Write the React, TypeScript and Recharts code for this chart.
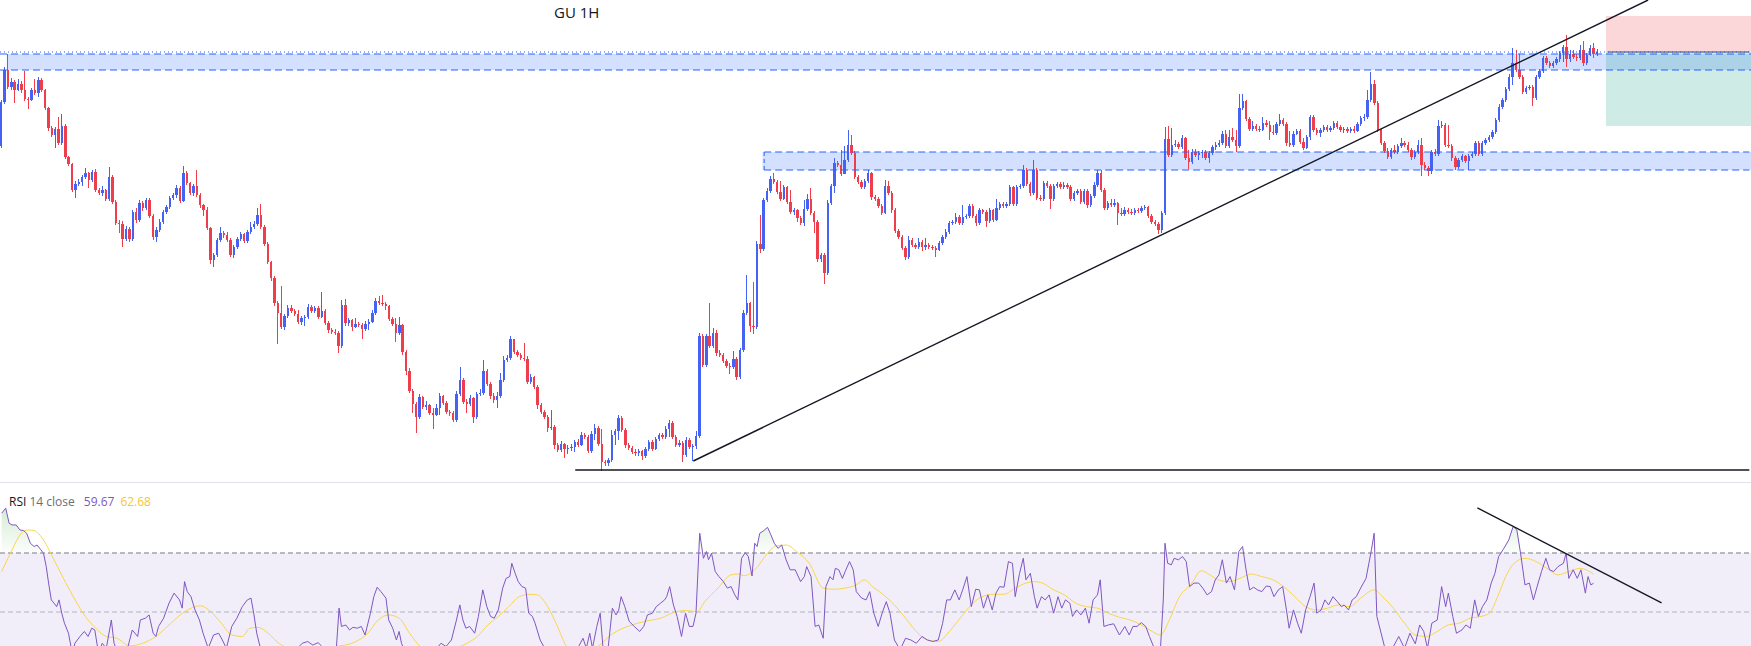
import React from "react";
import { ComposedChart, Bar, Line, Area, XAxis, YAxis, ReferenceArea, ReferenceLine } from "recharts";

const WIDTH = 1751;
const PRICE_H = 482;
const RSI_H = 164;
const SLOTS = 519; // candle slots incl. empty space on the right

// GU 1H, prices in pips above 1.2500
const firstOpen = 354;
const closes = [
  398,430,413,418,410,416,410,401,400,410,407,420,410,392,372,365,371,357,374,343,
  336,310,316,318,323,327,320,328,310,307,310,301,323,298,277,276,261,271,261,288,280,
  297,292,300,284,263,270,278,288,293,302,305,312,299,327,317,307,314,305,295,290,
  272,240,245,260,267,265,260,245,253,261,266,259,268,273,276,285,273,256,238,222,197,
  187,173,184,192,189,186,178,182,183,193,189,192,183,189,177,170,168,
  167,154,195,177,180,173,176,175,171,176,178,187,199,197,196,194,181,176,167,175,
  148,129,109,96,83,103,93,95,87,85,92,104,97,88,87,80,106,120,98,96,
  102,83,106,107,129,116,104,100,104,120,140,142,161,148,145,142,141,118,123,113,
  95,88,83,72,73,55,50,56,51,52,53,58,55,65,63,49,66,72,56,38,
  37,40,65,69,82,70,55,52,48,47,49,44,51,58,51,61,65,63,71,77,
  63,55,57,45,60,53,54,64,164,135,164,154,167,147,145,139,134,133,141,123,
  150,187,197,174,173,256,251,300,309,321,318,308,301,313,298,288,290,282,277,291,
  301,287,278,241,245,227,297,314,337,335,326,340,355,347,323,318,313,319,327,303,
  301,294,287,314,307,290,269,263,252,243,260,255,253,258,253,255,253,252,250,257,
  263,268,277,278,283,277,283,284,294,284,277,290,288,279,290,280,292,296,294,
  296,313,296,313,314,330,316,307,330,302,301,317,314,301,314,316,313,315,313,301,
  307,309,298,309,295,304,315,327,310,292,297,295,297,287,286,290,288,287,290,289,
  292,293,284,278,276,270,287,361,345,355,356,353,362,342,338,348,345,347,348,342,
  347,353,355,357,366,354,363,360,354,392,399,381,371,374,371,370,377,375,368,367,
  376,380,376,357,355,366,369,358,352,363,383,370,367,370,373,370,372,377,373,370,
  371,369,371,369,376,382,383,400,416,397,370,357,349,343,350,348,354,357,355,
  350,343,348,355,335,332,329,348,346,374,375,355,354,342,333,340,344,339,344,346,
  357,346,357,360,363,368,380,393,400,411,423,437,430,423,408,412,413,402,423,429,
  442,437,434,437,441,447,453,441,446,443,442,450,437,445,452,446,448,
];
const highs = [
  400,433,446,422,420,421,419,429,403,412,421,423,422,411,393,374,373,383,386,376,
  344,337,319,321,325,332,328,330,331,312,314,311,333,325,300,280,279,274,273,290,292,
  300,299,302,302,286,273,281,290,295,304,307,315,314,334,329,318,316,330,307,296,
  293,273,247,262,273,269,268,262,255,263,268,267,270,278,279,292,296,275,258,239,224,
  199,214,186,195,195,191,190,184,185,196,195,194,194,208,191,179,172,
  171,169,200,201,182,181,182,178,177,179,181,190,202,204,205,198,195,183,182,183,
  176,150,132,111,98,106,104,99,96,92,96,107,105,99,90,89,109,133,122,101,
  105,103,108,111,140,131,118,107,108,127,144,145,164,161,150,147,157,144,126,124,
  115,97,90,85,90,75,57,59,57,55,56,60,61,68,67,65,69,76,74,71,
  40,42,70,71,85,84,72,57,54,51,51,50,53,60,60,63,67,67,74,80,
  79,65,60,59,63,62,56,69,167,166,166,197,172,170,150,147,141,137,149,143,
  152,190,225,198,218,259,285,302,312,324,327,320,319,315,314,310,292,291,284,300,
  306,312,289,280,247,247,300,316,342,339,350,354,370,365,349,325,320,321,330,328,
  305,303,296,320,319,309,292,271,265,254,264,262,257,262,260,262,257,255,254,259,
  265,271,279,280,287,285,295,286,296,296,286,292,291,290,292,291,301,298,298,
  298,315,314,315,316,335,332,318,340,332,305,319,319,316,316,318,318,318,317,315,
  309,311,311,311,311,306,318,330,330,312,299,301,301,298,292,293,292,291,292,292,
  294,295,294,286,280,278,289,373,374,372,360,358,365,363,350,351,351,349,350,350,
  349,355,358,360,369,370,370,372,370,406,406,400,383,379,376,374,383,380,379,375,
  378,386,382,378,369,369,371,371,362,365,385,385,372,372,375,375,374,379,379,375,
  373,373,373,374,378,384,386,410,428,420,399,372,359,352,352,355,356,362,359,
  358,352,350,360,362,338,334,350,351,380,379,377,375,356,344,342,346,345,346,348,
  359,359,359,362,365,370,382,396,402,413,426,452,450,446,425,414,415,415,425,431,
  444,444,439,439,443,449,455,465,450,450,446,455,459,447,455,457,451,
];
const lows = [
  352,396,411,410,397,409,407,399,391,399,405,403,408,390,369,363,352,355,355,341,
  334,308,302,314,314,321,312,318,308,305,304,299,299,296,275,267,253,259,258,259,277,
  278,289,290,282,260,258,268,276,286,291,300,302,297,298,315,305,304,303,292,284,
  270,236,233,243,258,262,258,243,242,251,259,257,257,266,271,274,271,254,236,219,194,
  156,171,170,182,187,184,176,175,174,181,187,187,181,182,175,167,166,
  165,147,152,174,174,169,172,173,161,169,170,177,185,195,194,190,179,174,158,165,
  145,125,107,87,67,81,91,90,85,71,84,85,95,86,84,78,78,104,96,87,
  94,77,81,104,105,114,101,97,92,102,118,138,140,146,143,140,139,116,116,111,
  91,86,81,68,70,51,48,48,42,46,49,48,53,54,61,47,47,60,54,29,
  34,34,38,55,60,68,52,50,46,44,44,40,42,49,49,50,59,61,61,63,
  61,53,53,38,43,51,39,51,62,133,133,152,152,144,143,137,132,126,131,120,
  121,148,185,168,166,171,247,249,298,307,316,306,299,300,296,286,285,278,275,274,
  289,285,267,238,238,216,225,295,307,333,324,328,338,345,321,316,311,311,317,300,
  299,292,285,286,305,287,267,261,250,240,241,253,251,251,249,250,251,250,243,249,
  255,261,266,275,276,275,275,281,282,282,274,275,286,273,277,278,279,290,292,
  292,294,294,294,311,312,314,304,305,300,299,299,312,291,299,312,311,311,311,299,
  299,305,296,296,292,293,302,313,308,290,290,293,293,275,284,284,286,285,285,287,
  287,290,282,276,274,266,267,285,343,343,353,351,351,340,331,336,343,340,342,340,
  337,345,350,353,355,352,352,358,348,352,390,379,369,369,369,368,369,373,360,365,
  365,374,374,354,353,353,365,356,350,351,360,368,365,363,368,368,368,370,371,368,
  367,367,367,367,368,374,379,381,398,395,368,355,347,341,341,346,346,352,353,
  348,340,341,346,324,330,324,326,344,344,372,353,352,339,330,331,338,337,330,342,
  344,344,344,355,358,361,366,378,391,398,409,415,428,421,406,406,410,394,400,421,
  427,435,432,432,435,438,438,433,438,441,439,440,434,435,444,442,444,
];

const rsiAt = [
  0,1.2,2.2,3.1,4.3,5.4,6.5,7.4,8.5,9.6,10.5,11.6,12.4,13.2,13.9,14.7,15.5,16.3,17,17.8,
  18.6,19.8,20.9,21.7,23.2,24.5,25.6,26.7,27.6,28.7,29.8,31,32.5,33.3,34.1,35.6,37.2,38.7,40.3,41.1,
  42.6,43.7,44.9,45.7,46.5,48,49.6,51.1,52.7,53.5,54.2,55,56.1,57.3,58.6,59.7,61.2,62.8,64.3,65.4,
  66.6,68.2,69.7,71.3,72.8,73.9,74.7,75.6,76.7,79,82.1,85.2,89.1,90.7,92.2,93.8,94.8,96.9,99.2,100,
  100.7,102,103.1,104.1,105.4,106.6,107.7,109.3,110.3,111.3,112.4,113.9,114.7,115.9,117,117.8,118.5,120.1,124,128.6,
  130.2,131.7,133.3,134.8,135.8,136.7,137.6,138.7,140.2,141.3,142.6,143.8,144.9,146,147.2,148.5,149.5,150.6,151.2,152.2,
  153.1,154.2,155.3,156.2,157.3,158.1,159.6,161.2,164.3,167.4,170.5,172.3,173.3,174.3,175.1,176.4,177.4,178.2,179.8,181,
  182.1,182.9,183.6,184.7,186,187.5,189.1,190.3,191.4,192.9,194,195.3,196.5,197.1,198,199.1,200.2,201.5,202.7,203.8,
  204.9,205.8,206.9,208,208.9,209.5,210.4,211.5,212.6,213.9,215.1,216.2,217.3,218.2,219.3,220.4,221.3,222.4,223.2,223.9,
  224.7,225.9,227,227.8,229,230.1,231.2,232.5,233.7,235.2,236.8,237.9,238.6,239.9,
  241.1,242.2,243.5,244.3,245.5,246.4,247.1,248.1,249.2,250,251.3,252.4,253.3,254.9,256.2,257.3,258.5,259.8,261.1,262.2,
  263.3,264.6,266.3,267.9,269.5,271.1,272.8,274.4,276,277.6,278.9,280.1,281.2,282.5,283.8,284.9,286.1,287.4,288.7,289.8,
  291,292.3,293.6,294.7,295.8,297.1,298.4,299.6,300.4,301.7,302.8,303.6,304.9,306.1,306.9,308.2,309.3,310.5,311.8,313.1,
  314.2,315.3,316.6,317.4,318.6,319.9,321.2,322.3,323.5,324.8,325.6,326.7,328,329.6,331.3,332.9,334.2,335.3,336.5,337.8,
  339.1,340.2,341.8,343.5,344.3,344.8,345.6,346.7,347.5,348.8,350,351.1,352.1,353.4,354.8,356,357.3,358.6,359.7,360.8,
  361.8,363,364.1,365.4,366.7,367.8,369,369.9,371.1,372.2,373.5,374.8,376,377.1,378.4,379.7,380.8,381.6,382.9,384.1,
  385.2,386.5,387.8,389,389.8,391.1,392.2,393.3,394.6,395.9,397.1,397.9,399.2,400.3,401.5,402.8,404.4,406,406.8,407.6,
  409,410.1,412.5,414.1,415.8,417.4,419,420.3,421.5,422.6,423.9,425.5,426.8,428,428.8,430.1,431.2,432.8,434,435.3,
  436.6,437.7,438.9,440.2,441.5,442.6,443.7,445,446.7,448,449.1,450.2,451.5,452.8,454,455.1,456.4,457.7,458.8,460,
  461.3,462.9,463.7,464.5,465.8,467,468.1,469.4,470.2,471,471.8,
];
const rsiVal = [
  83.5,85.2,80.1,79.5,79.5,77.8,77.6,76.7,73.3,72.2,72.7,71.1,69.9,65.4,59.8,54.1,53,51.8,54.1,49.6,
  46.2,42.8,36,39.4,41.7,43.4,41.7,44.5,43.9,36,39.4,37.7,47.3,39.4,37.2,34.9,37.2,43.9,41.7,47.3,
  47.9,49,42.8,41.7,45.1,47.9,53,56.4,54.1,51.3,60.3,56.9,55.2,50.7,47.3,42.8,37.7,42.2,42.8,40.5,
  37.7,45.1,47.9,51.8,54.1,54.7,49.6,42.8,37.7,34.9,36,34.9,39.4,40,38.8,39.6,38.5,36,37.7,51.3,
  45.1,45.6,43.9,44.8,44.5,45.1,42.2,49.6,55.2,58.4,56.9,54.7,47.3,44.5,40.5,43.4,39.4,34.9,36,37.2,
  39.4,38.3,40.5,47.3,52.4,47.3,44.5,45.1,42.8,48.5,57.5,51.8,48.5,47.9,50.7,58.1,61.4,62,66.5,63.1,
  60.3,58.6,58.1,49.6,48.5,46.2,40.5,37.2,34.9,36,37.2,41.1,37.7,42.8,37.7,45.1,49.6,38.3,38.3,51.3,
  49,50.7,55.2,51.8,46.8,45.1,43.4,45.1,49,49.6,51.8,53,54.1,55.2,58.6,52.4,48.5,41.7,49.6,45.1,
  45.1,49.6,76.7,68.2,70.5,67.7,69.9,63.7,62,60.3,58.1,58.6,55.8,54.1,68.2,70.1,68.8,62.2,73.3,72.2,
  76.7,77.6,78.7,76.7,73.3,71.6,72.7,67.7,64.3,64.3,60.3,62,65.4,62,
  45.1,45.6,41.1,58.6,62,60.9,64.8,64.3,61.4,63.7,67.1,64.3,56.9,54.7,54.1,56.9,49.6,45.1,50.1,53.5,
  49.6,40.5,37.2,41.1,40.5,39.4,41.7,40.5,40,40.5,46.2,54.1,54.1,57.5,54.1,57.7,62,51.8,57.7,57.5,
  51.3,55.8,50.7,56.4,58.6,58.4,67.1,66.5,55.2,63.1,68.2,60.9,63.1,55.2,51.3,55.2,54.1,55.8,49.6,55.2,
  51.3,54.1,53,48.5,50.7,49,51.3,46.2,54.1,55.8,60.9,45.1,45.6,46,42.2,45.1,42.2,45.1,45.1,46.4,
  45.1,41.7,37.2,38.3,54.1,73.3,66.5,66,68.2,67.7,68.8,67.1,58.6,59.8,59.8,58.1,55.8,56.9,60.9,62.6,
  67.7,59.8,62,57.5,70.5,72.2,63.1,57.5,58.4,57.5,56.9,58.8,58.6,55.2,57.5,58.6,50.7,44.5,50.7,46.2,
  42.8,50.7,55.2,59.8,49.6,50.7,54.1,52.4,55.2,53.5,51.8,52.4,50.7,54.1,55.2,58.1,61.4,71.1,76.7,48.5,
  42.2,37.2,38.3,41.7,37.7,42.8,39.2,45.6,43.4,37.7,46.2,47.3,58.6,51.8,56.4,48.5,42.8,43.9,45.6,44.5,
  54.1,48.5,51.8,54.1,59.8,63.1,68.8,71.1,74.4,79,77.8,69.9,59.2,59.8,54.1,58.6,63.7,68.2,64.3,63.7,
  65.4,66.5,69.9,61.4,64.3,61.4,64.3,56.4,62,59.2,59.7,
];

// RSI-based moving average
const maAt = [
  0,3.1,5.4,7.7,9.6,12.4,15.5,20.1,24.8,27.9,31,34.1,38,41.8,45.7,49.6,54.2,58.9,62,65.1,
  68.2,71.3,73.6,75.9,79,82.1,86.8,93,99.2,103.8,108.5,111.6,114.7,117.8,120.9,124,128.6,133.3,137.9,141,
  144.1,147.2,150.3,153.4,156.5,158.8,161.2,164.3,167.4,170.5,176.7,181.3,186,190.6,195.3,199.9,203,206.1,208.4,212.3,
  216.2,218.5,220.1,223.2,227,229.4,232.5,235.6,239.4,
  243.5,246.8,250,253.3,255.7,258.1,261.4,264.6,267.9,271.1,274.4,277.6,280.9,284.1,287.4,290.6,293.9,297.1,300.4,303.6,
  306.1,308.5,311.8,315,318.3,321.5,324.8,328,331.3,334.5,337.8,341,343.5,345.9,349.1,352.4,355.6,358.1,360.5,363.8,
  367,370.3,373.5,376.8,380,383.3,386.5,389.8,393,396.3,399.5,402.8,406.8,409.3,412.5,415.8,419,422.3,425.5,428.8,
  432,435.3,438.5,441,443.4,445.8,448.3,451.5,454.8,458,461.3,464.5,467.8,471.8,
];
const maVal = [
  63.7,71.1,76.1,77.8,77.6,74.4,67.7,57.5,48.5,44.5,41.7,41.1,38.5,39.4,41.7,45.6,50.1,52.1,50.1,46.2,
  42.2,41.7,44.5,44.8,42.8,39.4,37.2,36,38.3,39.4,42.8,47.3,49,47.9,42.8,38.3,34.9,37.2,39.4,41.7,
  45.6,48.5,51.8,55.2,56,55.8,53,46.2,38.3,34.9,38.3,42.8,45.3,46.8,47.9,50.1,50.5,50.1,53.5,58.1,
  62.6,62.9,62.3,64.3,69.9,72.4,72.7,70.5,66.5,
  58.1,57.7,58.1,59.2,60.9,58.6,55.8,52.4,47.9,43.4,40.5,40,43.4,47.9,52.4,55.2,56,56,58.1,59.8,
  60.3,59.8,57.5,55.8,53,51.8,51.3,49.6,48.2,47.3,45.6,43.4,42.2,46.8,55.2,59.2,64,62.6,60.9,60.3,
  61.4,62.9,62,60.9,58.6,55.2,51.8,50.7,51.3,52.4,51.8,54.7,57.5,55.2,51.3,46.2,42.2,41.7,43.4,45.6,
  46.2,47.9,48.5,49.6,55.2,62,66.5,68.2,67.1,64.8,62.6,63.7,64.8,62.9,
];

const UP = "#4662f2";
const DOWN = "#ee3e4b";
const ZONE = "#2962ff";

const candles = Array.from({ length: SLOTS }, (_, i) => {
  if (i >= closes.length) return { i };
  const open = i === 0 ? firstOpen : closes[i - 1];
  const close = closes[i];
  const high = Math.max(highs[i], open, close);
  const low = Math.min(lows[i], open, close);
  return { i, open, close, high, low, range: [low, high] };
});

const rsiData = rsiAt.slice(0, rsiVal.length).map((x, k) => ({ x, v: rsiVal[k] }));
const obData = rsiData.map((d) => ({ x: d.x, v: Math.max(d.v, 70) }));
const maData = maAt.slice(0, maVal.length).map((x, k) => ({ x, v: maVal[k] }));

function Candle(props: any) {
  const { x, y, width, height, payload } = props;
  if (!payload || payload.open == null || !isFinite(y) || !isFinite(height)) return null;
  const { open, close, high, low } = payload;
  const top = Math.min(y, y + height);
  const bottom = Math.max(y, y + height);
  const span = high - low || 1;
  const toY = (v: number) => top + ((high - v) / span) * (bottom - top);
  const color = close >= open ? UP : DOWN;
  const cx = x + width / 2;
  const bodyTop = toY(Math.max(open, close));
  const bodyH = Math.max(1, toY(Math.min(open, close)) - bodyTop);
  return (
    <g shapeRendering="crispEdges">
      <line x1={cx} x2={cx} y1={top} y2={bottom} stroke={color} strokeWidth={1} />
      <rect x={x} y={bodyTop} width={width} height={bodyH} fill={color} />
    </g>
  );
}

const last = SLOTS - 1;
const noMargin = { top: 0, right: 0, bottom: 0, left: 0 };

export default function App() {
  return (
    <div style={{ position: "relative", width: WIDTH, height: PRICE_H + RSI_H, background: "#fff", overflow: "hidden", fontFamily: "'Open Sans', sans-serif" }}>
      <style>{"body{margin:0}"}</style>
      <ComposedChart width={WIDTH} height={PRICE_H} data={candles} margin={noMargin}>
        <XAxis dataKey="i" hide />
        <YAxis hide domain={[18, 500]} allowDataOverflow />
        {/* supply zone */}
        <ReferenceArea x1={2} x2={last} y1={430} y2={446} fill={ZONE} fillOpacity={0.2} stroke="none" />
        <ReferenceLine y={446} stroke={ZONE} strokeDasharray="7 4" />
        <ReferenceLine y={430} stroke={ZONE} strokeDasharray="7 4" />
        {/* demand zone */}
        <ReferenceArea x1={226} x2={last} y1={330} y2={348} fill={ZONE} fillOpacity={0.2} stroke="none" />
        <ReferenceLine segment={[{ x: 226, y: 348 }, { x: last, y: 348 }]} stroke={ZONE} strokeDasharray="7 4" />
        <ReferenceLine segment={[{ x: 226, y: 330 }, { x: last, y: 330 }]} stroke={ZONE} strokeDasharray="7 4" />
        <ReferenceLine segment={[{ x: 226, y: 330 }, { x: 226, y: 348 }]} stroke={ZONE} strokeDasharray="4 3" />
        {/* short position */}
        <ReferenceArea x1={476} x2={last} y1={448} y2={484} fill="#f23645" fillOpacity={0.2} stroke="none" />
        <ReferenceArea x1={476} x2={last} y1={374} y2={448} fill="#089981" fillOpacity={0.2} stroke="none" />
        <ReferenceLine segment={[{ x: 476, y: 448 }, { x: last, y: 448 }]} stroke="#787b86" strokeWidth={1.5} />
        <ReferenceLine y={448} stroke={ZONE} strokeDasharray="1 3" />
        <Bar dataKey="range" barSize={2.4} shape={(p: any) => <Candle {...p} />} isAnimationActive={false} />
        {/* trend lines */}
        <ReferenceLine segment={[{ x: 205, y: 39 }, { x: 488, y: 500 }]} stroke="#131722" strokeWidth={1.4} />
        <ReferenceLine segment={[{ x: 170, y: 30 }, { x: last, y: 30 }]} stroke="#131722" strokeWidth={1.6} />
      </ComposedChart>

      <div style={{ position: "absolute", left: 0, top: PRICE_H, width: WIDTH, height: 1, background: "#e0e3eb" }} />

      <div style={{ position: "absolute", left: 0, top: PRICE_H }}>
        <ComposedChart width={WIDTH} height={RSI_H} margin={noMargin}>
          <defs>
            <linearGradient id="obFill" x1="0" x2="0" y1="0" y2="1">
              <stop offset="0%" stopColor="#4caf50" stopOpacity={0.4} />
              <stop offset="100%" stopColor="#4caf50" stopOpacity={0.03} />
            </linearGradient>
          </defs>
          <XAxis type="number" dataKey="x" domain={[-0.5, SLOTS - 0.5]} hide allowDataOverflow />
          <YAxis type="number" domain={[38.47, 94.07]} hide allowDataOverflow />
          <ReferenceArea y1={30} y2={70} fill="#7e57c2" fillOpacity={0.1} stroke="none" ifOverflow="hidden" />
          <ReferenceLine y={70} stroke="#787b86" strokeDasharray="5 3" />
          <ReferenceLine y={50} stroke="#b2b5be" strokeDasharray="5 3" />
          <Area data={obData} dataKey="v" baseValue={70} type="linear" stroke="none" fill="url(#obFill)" isAnimationActive={false} />
          <Line data={maData} dataKey="v" type="monotone" stroke="#f9d64c" strokeWidth={1} dot={false} isAnimationActive={false} />
          <Line data={rsiData} dataKey="v" type="linear" stroke="#7e57c2" strokeWidth={1} dot={false} isAnimationActive={false} />
          <ReferenceLine segment={[{ x: 437.4, y: 85.3 }, { x: 492, y: 53.05 }]} stroke="#131722" strokeWidth={1.4} />
        </ComposedChart>
      </div>

      <div style={{ position: "absolute", left: 554, top: 2, fontSize: 15, color: "#131722" }}>GU 1H</div>
      <div style={{ position: "absolute", left: 9, top: 493, fontSize: 12, whiteSpace: "pre" }}>
        <span style={{ color: "#131722" }}>RSI</span>
        <span style={{ color: "#6a6d78" }}> 14 close</span>
        <span style={{ color: "#7e57c2", marginLeft: 9 }}>59.67</span>
        <span style={{ color: "#f7c531", marginLeft: 6 }}>62.68</span>
      </div>
    </div>
  );
}
